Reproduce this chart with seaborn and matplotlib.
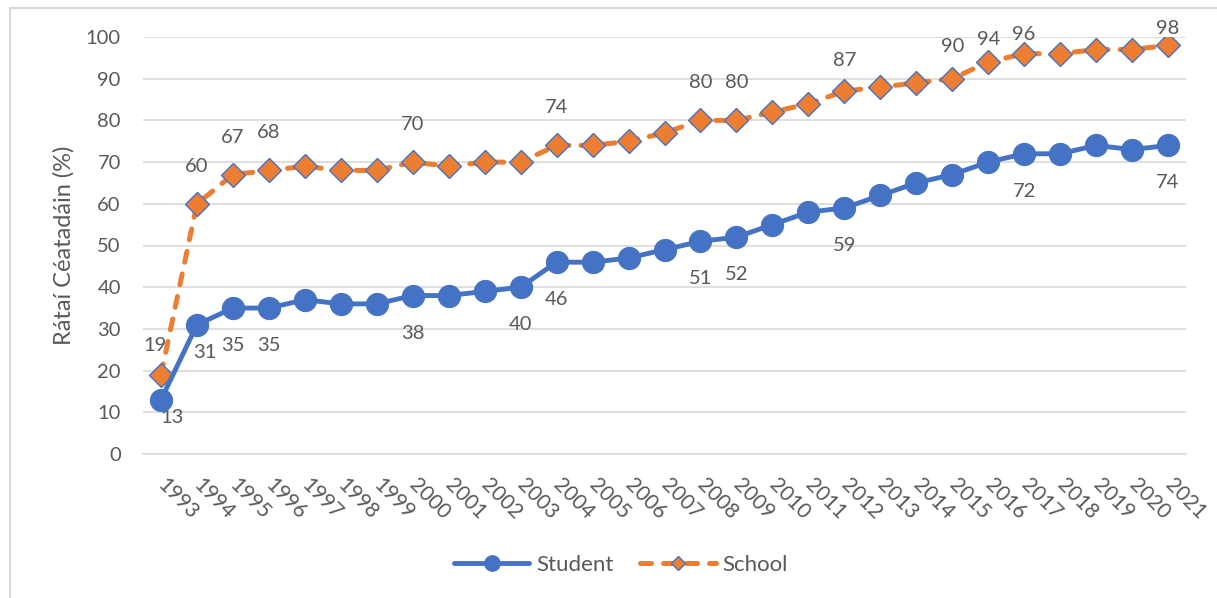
import matplotlib
matplotlib.use('Agg')
import matplotlib.pyplot as plt
from matplotlib.ticker import FixedLocator
from matplotlib.lines import Line2D
import seaborn as sns
import pandas as pd
import numpy as np

# data
years = ['1993', '1994', '1995', '1996', '1997', '1998', '1999', '2000', '2001', '2002',
         '2003', '2004', '2005', '2006', '2007', '2008', '2009', '2010', '2011', '2012',
         '2013', '2014', '2015', '2016', '2017', '2018', '2019', '2020', '2021']
student = [13, 31, 35, 35, 37, 36, 36, 38, 38, 39, 40, 46, 46, 47, 49, 51, 52, 55, 58, 59,
           62, 65, 67, 70, 72, 72, 74, 73, 74]
school = [19, 60, 67, 68, 69, 68, 68, 70, 69, 70, 70, 74, 74, 75, 77, 80, 80, 82, 84, 87,
          88, 89, 90, 94, 96, 96, 97, 97, 98]

# which points carry a value label
student_labelled = ['1993', '1994', '1995', '1996', '2000', '2003', '2004', '2008', '2009',
                    '2012', '2017', '2021']
school_labelled = ['1993', '1994', '1995', '1996', '2000', '2004', '2008', '2009', '2012',
                   '2015', '2016', '2017', '2021']

# label offsets in points (default below / above the marker)
student_off = {'1993': (8, -13), '1994': (6, -20)}
school_off = {'1993': (-4, 21), '2012': (0, 22), '2015': (0, 23), '2016': (0, 16),
              '2017': (0, 14), '2021': (0, 12)}

blue = '#4472C4'
orange = '#ED7D31'
txt = '#595959'
grid = '#D9D9D9'

sns.set_style('white')
plt.rcParams['font.family'] = ['Lato', 'DejaVu Sans']

df = pd.DataFrame({'year': years, 'Student': student, 'School': school})
df['pos'] = np.arange(len(df))

fig = plt.figure(figsize=(12.17, 5.98), dpi=100)
ax = fig.add_axes([143 / 1217, 1 - 454 / 598, (1186 - 143) / 1217, (454 - 37) / 598])

sns.lineplot(data=df, x='pos', y='School', ax=ax, color=orange, lw=3.6, marker='D',
             markersize=12, markeredgecolor=blue, markeredgewidth=1, label='School', zorder=3)
sch_line = ax.lines[-1]
sch_line.set_dashes((2.2, 2.4))
sch_line.set_dash_capstyle('round')

sns.lineplot(data=df, x='pos', y='Student', ax=ax, color=blue, lw=3.5, marker='o',
             markersize=16, markeredgecolor=blue, label='Student', zorder=4)

for i, y in enumerate(years):
    if y in student_labelled:
        dx, dy = student_off.get(y, (0, -27))
        ax.annotate(str(student[i]), (i, student[i]), xytext=(dx, dy), textcoords='offset points',
                    ha='center', va='center', fontsize=14.5, color=txt, annotation_clip=False)
    if y in school_labelled:
        dx, dy = school_off.get(y, (0, 27))
        ax.annotate(str(school[i]), (i, school[i]), xytext=(dx, dy), textcoords='offset points',
                    ha='center', va='center', fontsize=14.5, color=txt, annotation_clip=False)

ax.set_xlim(-0.5, len(years) - 0.5)
ax.set_ylim(0, 100)
ax.set_yticks(range(0, 101, 10))
ax.yaxis.grid(True, color=grid, lw=1.2)
ax.set_axisbelow(True)
for s in ['top', 'right', 'left']:
    ax.spines[s].set_visible(False)
ax.spines['bottom'].set_color(grid)
ax.spines['bottom'].set_linewidth(1.2)

ax.set_xticks(df['pos'])
ax.set_xticklabels(years)
ax.xaxis.set_minor_locator(FixedLocator(np.arange(-0.5, len(years) - 0.4, 1.5)))
ax.tick_params(axis='x', which='major', length=0, pad=20, labelsize=15, labelcolor=txt)
ax.tick_params(axis='x', which='minor', length=5, width=1.2, color=grid, direction='in')
ax.tick_params(axis='y', length=0, pad=16, labelsize=14.5, labelcolor=txt)
for lab in ax.get_xticklabels():
    lab.set_rotation(-45)
    lab.set_rotation_mode('anchor')
    lab.set_ha('left')
    lab.set_va('center')

ax.set_xlabel('')
ax.set_ylabel('Rátaí Céatadáin (%)', fontsize=17, color=txt, labelpad=8)

handles = [Line2D([], [], color=blue, lw=3.5, marker='o', markersize=11),
           Line2D([], [], color=orange, lw=3.6, dashes=(2.2, 2.4), dash_capstyle='round',
                  marker='D', markersize=7, markeredgecolor=blue, markeredgewidth=1)]
ax.legend(handles, ['Student', 'School'], loc='center', bbox_to_anchor=(0.51, 0.055),
          bbox_transform=fig.transFigure, ncol=2, frameon=False, fontsize=16,
          labelcolor=txt, handlelength=3.4, handletextpad=0.3, columnspacing=1.2)

# chart area border (only left and top visible in the crop)
fig.add_artist(Line2D([10 / 1217, 10 / 1217], [0, 1 - 8 / 598], color=grid, lw=1.5))
fig.add_artist(Line2D([10 / 1217, 1], [1 - 8 / 598, 1 - 8 / 598], color=grid, lw=1.5))

fig.savefig('out.png', dpi=100)
